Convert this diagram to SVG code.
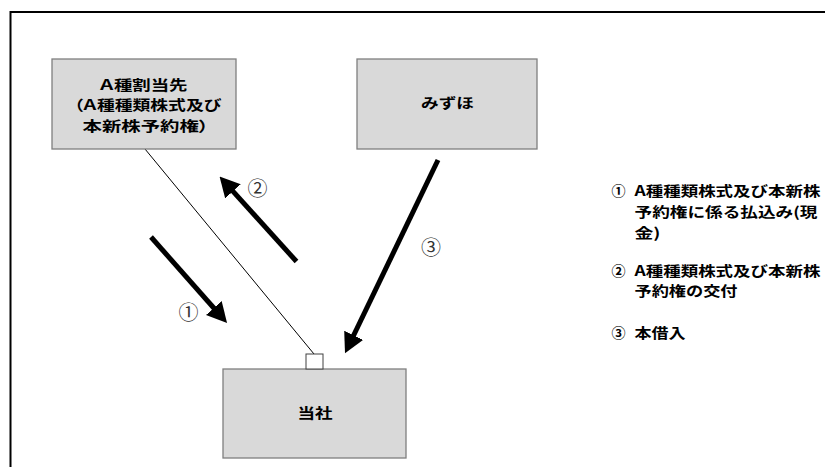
<svg xmlns="http://www.w3.org/2000/svg" width="825" height="467" viewBox="0 0 825 467">
<style>
.box{fill:#d9d9d9;stroke:#7f7f7f;stroke-width:1.3}
.t{font-family:"Noto Sans CJK JP","Noto Sans",sans-serif;font-weight:bold;font-size:14px;fill:#000}
.p{font-feature-settings:"palt"}
.num{font-family:"Noto Sans CJK JP","Noto Sans",sans-serif;font-size:20px;fill:#333;text-anchor:middle}
.lnum{font-family:"Noto Sans CJK JP","Noto Sans",sans-serif;font-weight:bold;font-size:14px;fill:#000;text-anchor:middle}
.arr{stroke:#000;stroke-width:5;fill:none;marker-end:url(#ah)}
</style>
<defs>
<marker id="ah" markerUnits="userSpaceOnUse" markerWidth="20" markerHeight="21" refX="8" refY="10.5" orient="auto" viewBox="0 0 20 21">
<path d="M0,0 L20,10.5 L0,21 z" fill="#000"/>
</marker>
</defs>
<rect width="825" height="467" fill="#fff"/>
<path d="M10.5,467 V12 H825" fill="none" stroke="#000" stroke-width="2"/>

<g id="connectors">
<line x1="145" y1="149" x2="314" y2="354" stroke="#000" stroke-width="1"/>
<line class="arr" x1="151" y1="237" x2="219.1" y2="314"/>
<line class="arr" x1="296.5" y1="261.5" x2="227.6" y2="185.4"/>
<line class="arr" x1="438" y1="160" x2="350.2" y2="342.5"/>
<text class="num" x="188.5" y="320">①</text>
<text class="num" x="257.5" y="195.5">②</text>
<text class="num" x="431" y="254.5">③</text>
</g>

<g id="nodeA">
<rect class="box" x="52" y="59" width="184" height="90"/>
<text class="t p" x="99.5" y="89.5" textLength="88" lengthAdjust="spacingAndGlyphs">Ａ種割当先</text>
<text class="t p" x="74" y="110" textLength="147" lengthAdjust="spacingAndGlyphs">（Ａ種種類株式及び</text>
<text class="t p" x="82.5" y="130.5" textLength="126" lengthAdjust="spacingAndGlyphs">本新株予約権）</text>
</g>

<g id="nodeMizuho">
<rect class="box" x="357" y="59" width="180" height="90"/>
<text class="t" x="421" y="108" textLength="53" lengthAdjust="spacingAndGlyphs">みずほ</text>
</g>

<g id="nodeTosha">
<rect class="box" x="223" y="369" width="183" height="89"/>
<text class="t" x="297.5" y="417.5" textLength="35" lengthAdjust="spacingAndGlyphs">当社</text>
</g>

<g id="port">
<rect x="306" y="354" width="17" height="15" fill="#fff" stroke="#404040" stroke-width="1"/>
</g>

<g id="legend">
<text class="lnum" x="618.5" y="195.5">①</text>
<text class="t" x="634.5" y="195.5" textLength="186" lengthAdjust="spacingAndGlyphs">A種種類株式及び本新株</text>
<text class="t" x="634.5" y="216.5" textLength="183" lengthAdjust="spacingAndGlyphs">予約権に係る払込み(現</text>
<text class="t" x="634.5" y="237.5" textLength="26" lengthAdjust="spacingAndGlyphs">金)</text>
<text class="lnum" x="618.5" y="275.5">②</text>
<text class="t" x="634.5" y="275.5" textLength="186" lengthAdjust="spacingAndGlyphs">A種種類株式及び本新株</text>
<text class="t" x="634.5" y="296" textLength="103" lengthAdjust="spacingAndGlyphs">予約権の交付</text>
<text class="lnum" x="618.5" y="337.5">③</text>
<text class="t" x="634.5" y="337.5" textLength="51" lengthAdjust="spacingAndGlyphs">本借入</text>
</g>
</svg>
